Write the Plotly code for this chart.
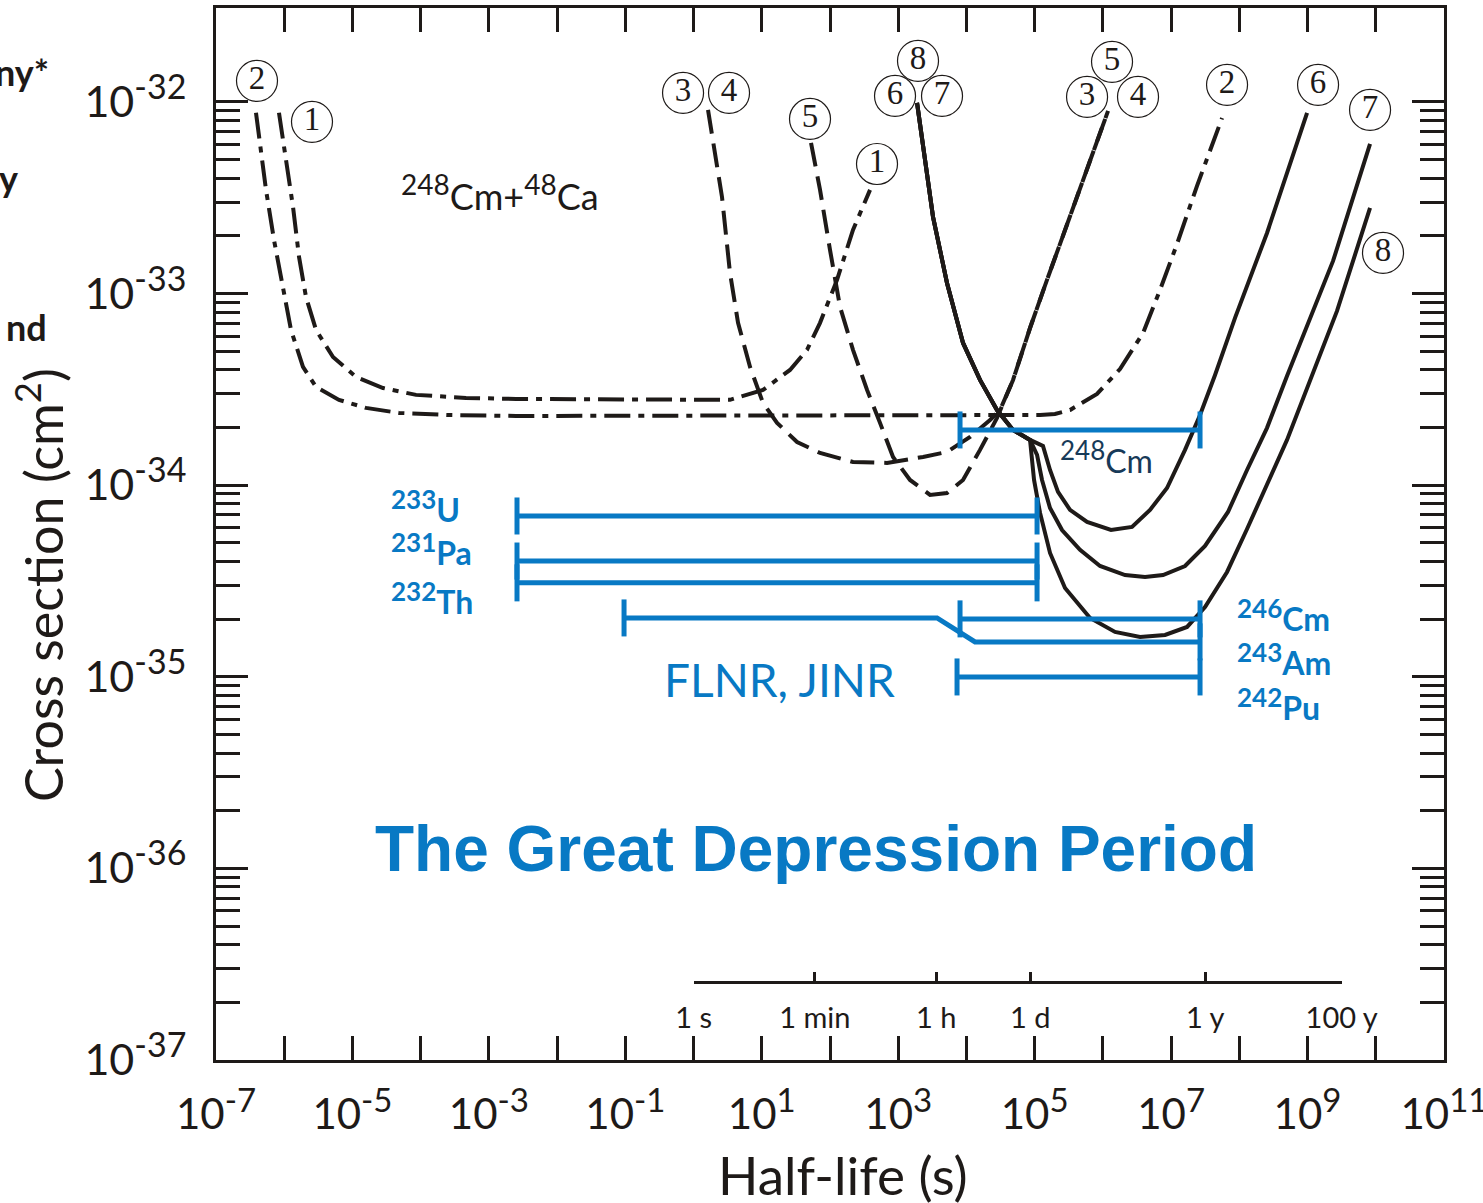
import plotly.graph_objects as go

# ---------------- data (log10 half-life [s], log10 cross-section [cm^2]) ----------------
# curve 1 (dash-dot)
c1_lt = [-6.077, -5.974, -5.871, -5.783, -5.681, -5.534, -5.285, -4.948, -4.552, -4.068, -3.335, -2.602,
         -0.785, 0.534, 1.018, 1.414, 1.663, 1.854, 2.103, 2.337, 2.587]
c1_ls = [-32.057, -32.287, -32.548, -32.809, -33.018, -33.190, -33.331, -33.435, -33.493, -33.529, -33.545,
         -33.550, -33.555, -33.555, -33.503, -33.399, -33.294, -33.153, -32.929, -32.668, -32.459]
# curve 2 (dash-dot)
c2_lt = [-6.414, -6.267, -6.150, -6.018, -5.901, -5.725, -5.534, -5.197, -4.801, -4.317, -3.585, -2.602,
         0.828, 5.079, 5.298, 5.518, 5.914, 6.251, 6.589, 6.838, 7.087, 7.380, 7.747]
c2_ls = [-32.057, -32.459, -32.720, -32.981, -33.190, -33.383, -33.487, -33.555, -33.597, -33.623, -33.634,
         -33.639, -33.639, -33.634, -33.629, -33.608, -33.524, -33.394, -33.206, -32.981, -32.741, -32.438, -32.084]
# curves 3 / 4 (dashed)
c34_lt = [0.212, 0.285, 0.417, 0.534, 0.652, 0.828, 1.018, 1.224, 1.517, 1.854, 2.337, 2.836, 3.364, 3.715,
          4.053, 4.346, 4.492, 4.683, 4.932, 5.181, 5.401, 5.636, 5.856, 6.076]
c34_ls = [-32.042, -32.198, -32.496, -32.892, -33.153, -33.383, -33.571, -33.675, -33.775, -33.832, -33.879,
          -33.884, -33.853, -33.827, -33.748, -33.660, -33.608, -33.451, -33.180, -32.929, -32.710, -32.475,
          -32.261, -32.047]
# curve 5 (dashed)
c5_lt = [1.722, 1.854, 2.000, 2.147, 2.337, 2.543, 2.733, 2.924, 3.173, 3.466, 3.715, 3.950, 4.199, 4.448,
         4.683, 4.932, 5.181, 5.401, 5.636, 5.856, 6.076]
c5_ls = [-32.214, -32.459, -32.772, -33.070, -33.294, -33.503, -33.675, -33.853, -33.973, -34.051, -34.041,
         -33.973, -33.816, -33.649, -33.451, -33.180, -32.929, -32.710, -32.475, -32.261, -32.047]
# curves 6 / 7 / 8 (solid): common upper branch + individual tails
trunk_lt = [3.276, 3.422, 3.510, 3.715, 3.950, 4.199, 4.448, 4.683, 4.932]
trunk_ls = [-32.005, -32.371, -32.600, -32.945, -33.258, -33.451, -33.608, -33.712, -33.764]
c6_lt = [5.122, 5.225, 5.342, 5.518, 5.768, 6.119, 6.427, 6.691, 6.940, 7.204, 7.424, 7.644, 7.937, 8.406, 8.993]
c6_ls = [-33.795, -33.921, -34.035, -34.129, -34.192, -34.234, -34.218, -34.129, -34.015, -33.816, -33.634,
         -33.425, -33.127, -32.684, -32.057]
c7_lt = [5.035, 5.108, 5.225, 5.401, 5.665, 5.958, 6.325, 6.618, 6.882, 7.204, 7.497, 7.834, 8.113, 8.406,
         8.699, 9.374, 9.916]
c7_ls = [-33.842, -33.973, -34.119, -34.234, -34.338, -34.422, -34.469, -34.479, -34.469, -34.422, -34.317,
         -34.140, -33.921, -33.701, -33.430, -32.830, -32.219]
c8_lt = [4.991, 5.079, 5.225, 5.445, 5.812, 6.178, 6.545, 6.911, 7.234, 7.497, 7.820, 8.113, 8.699, 9.432, 9.916]
c8_ls = [-33.973, -34.145, -34.354, -34.537, -34.693, -34.766, -34.792, -34.782, -34.740, -34.636, -34.453,
         -34.229, -33.764, -33.091, -32.553]

# blue half-life ranges (log10 start, log10 end, log10 cross-section)
bar_names = ["248Cm", "233U", "231Pa", "232Th", "246Cm", "242Pu"]
bar_t0 = [3.906, -2.588, -2.588, -2.588, 3.906, 3.862]
bar_t1 = [7.424, 5.035, 5.035, 5.035, 7.424, 7.424]
bar_s = [-33.712, -34.161, -34.396, -34.510, -34.698, -35.001]
# FLNR / 243Am bent range
flnr_lt = [-1.019, 3.569, 4.126, 7.424]
flnr_ls = [-34.693, -34.693, -34.818, -34.818]

# circled curve labels (label, log10 t, log10 sigma)
circ_labels = ["2", "1", "3", "4", "5", "1", "8", "6", "7", "5", "3", "4", "2", "6", "7", "8"]
circ_lt = [-6.399, -5.593, -0.154, 0.520, 1.707, 2.689, 3.290, 2.953, 3.642, 6.134, 5.768, 6.515, 7.820,
           9.154, 9.916, 10.106]
circ_ls = [-31.890, -32.104, -31.953, -31.953, -32.089, -32.324, -31.786, -31.969, -31.969, -31.791, -31.974,
           -31.974, -31.911, -31.911, -32.042, -32.788]

# secondary time scale
time_vals_s = [1, 60, 3600, 86400, 3.156e7, 3.156e9]
time_text = ["1 s", "1 min", "1 h", "1 d", "1 y", "100 y"]

x_exps = list(range(-7, 12))
y_exps = list(range(-37, -31))

# ---------------- styling ----------------
BLACK = "#1e1a18"
BLUE = "#0879c4"
NAVY = "#173a58"
SANS = "Lato, 'Open Sans', sans-serif"
ARIAL = "'Liberation Sans', Arial, sans-serif"
SERIF = "'Liberation Serif', 'Times New Roman', serif"
DASH = "24px,10px"
DASHDOT = "26px,8px,6px,8px"

W, H = 1483, 1203
ML, MR, MT, MB = 216, 39, 8, 143
PW, PH = W - ML - MR, H - MT - MB


def P(v):
    return [10.0 ** a for a in v]


def lg(v):
    return [None if a is None else 10.0 ** a for a in v]


def paper(px, py):
    return (px - ML) / PW, (H - MB - py) / PH


fig = go.Figure()

curves = [
    (c1_lt, c1_ls, DASHDOT),
    (c2_lt, c2_ls, DASHDOT),
    (c34_lt, c34_ls, DASH),
    (c5_lt, c5_ls, DASH),
    (trunk_lt + c6_lt, trunk_ls + c6_ls, "solid"),
    (trunk_lt + c7_lt, trunk_ls + c7_ls, "solid"),
    (trunk_lt + c8_lt, trunk_ls + c8_ls, "solid"),
]
for lt, ls, dash in curves:
    fig.add_trace(go.Scatter(x=P(lt), y=P(ls), mode="lines",
                             line=dict(color=BLACK, width=4, dash=dash),
                             hoverinfo="skip", showlegend=False))

# blue bars with end caps
CAP = 18.5 / 191.6  # cap half-height in decades
for t0, t1, s in zip(bar_t0, bar_t1, bar_s):
    xs = [t0, t1, None, t0, t0, None, t1, t1]
    ys = [s, s, None, s - CAP, s + CAP, None, s - CAP, s + CAP]
    fig.add_trace(go.Scatter(x=lg(xs), y=lg(ys), mode="lines", line=dict(color=BLUE, width=5),
                             hoverinfo="skip", showlegend=False))
fx = flnr_lt + [None, flnr_lt[0], flnr_lt[0], None, flnr_lt[-1], flnr_lt[-1]]
fy = flnr_ls + [None, flnr_ls[0] - CAP, flnr_ls[0] + CAP, None, flnr_ls[-1] - CAP, flnr_ls[-1] + CAP]
fig.add_trace(go.Scatter(x=lg(fx), y=lg(fy), mode="lines", line=dict(color=BLUE, width=5),
                         hoverinfo="skip", showlegend=False))

# circled labels
fig.add_trace(go.Scatter(x=P(circ_lt), y=P(circ_ls), mode="markers+text", text=circ_labels,
                         textposition="middle center",
                         textfont=dict(family=SERIF, size=33, color=BLACK),
                         marker=dict(symbol="circle-open", size=41, color=BLACK, line=dict(width=1.2)),
                         cliponaxis=False, hoverinfo="skip", showlegend=False))

# invisible trace for secondary time axis
fig.add_trace(go.Scatter(x=[10], y=[1e-36], xaxis="x2", yaxis="y", mode="markers",
                         marker=dict(opacity=0), hoverinfo="skip", showlegend=False))


# ---------------- annotations ----------------
def ann(text, px, py, size, color, family=SANS, xanchor="center", angle=0):
    x, y = paper(px, py)
    fig.add_annotation(text=text, x=x, y=y, xref="paper", yref="paper", showarrow=False,
                       xanchor=xanchor, yanchor="middle", textangle=angle,
                       font=dict(size=size, color=color, family=family))


def iso(mass, sym, sup_px, bold=False):
    s = f"<sup><span style='font-size:{sup_px}px'>{mass}</span></sup>{sym}"
    return f"<b>{s}</b>" if bold else s


ann(iso(248, "Cm+", 28) + "<sup><span style='font-size:28px'>48</span></sup>Ca", 399, 193, 36, BLACK,
    xanchor="left")
ann(iso(233, "U", 26, True), 389, 506, 32, BLUE, xanchor="left")
ann(iso(231, "Pa", 26, True), 389, 549, 32, BLUE, xanchor="left")
ann(iso(232, "Th", 26, True), 389, 598, 32, BLUE, xanchor="left")
ann(iso(248, "Cm", 26), 1058, 457, 32, NAVY, xanchor="left")
ann(iso(246, "Cm", 26, True), 1235, 615, 32, BLUE, xanchor="left")
ann(iso(243, "Am", 26, True), 1235, 659, 32, BLUE, xanchor="left")
ann(iso(242, "Pu", 26, True), 1235, 704, 32, BLUE, xanchor="left")
ann("FLNR, JINR", 779, 679, 46, BLUE)
ann("<b>The Great Depression Period</b>", 816, 849, 64, BLUE, family=ARIAL)
ann("Cross section (cm<sup>2</sup>)", 40, 585, 52, BLACK, angle=-90)
ann("Half-life (s)", 843, 1174, 53, BLACK)
ann("<b>ny*</b>", 51, 72, 36, BLACK, xanchor="right")
ann("<b>y</b>", 20, 178, 36, BLACK, xanchor="right")
ann("<b>nd</b>", 49, 327, 36, BLACK, xanchor="right")


# ---------------- axes ----------------
def pow_label(e, sup_px):
    return f"10<sup><span style='font-size:{sup_px}px'>{e}</span></sup>"


x_major = [10.0 ** e for e in x_exps if e % 2 != 0]
x_major_text = [pow_label(e, 33) for e in x_exps if e % 2 != 0]
x_minor = [10.0 ** e for e in x_exps if e % 2 == 0]
y_tickvals = [10.0 ** e for e in y_exps]
y_ticktext = [pow_label(e, 34) for e in y_exps]
y_minor = [m * 10.0 ** e for e in y_exps[:-1] for m in range(2, 10)]

fig.update_layout(
    width=W, height=H, autosize=False,
    margin=dict(l=ML, r=MR, t=MT, b=MB, pad=0, autoexpand=False),
    paper_bgcolor="white", plot_bgcolor="rgba(0,0,0,0)",
    showlegend=False,
    xaxis=dict(type="log", range=[-7, 11], tickmode="array", tickvals=x_major, ticktext=x_major_text,
               ticks="inside", ticklen=24, tickwidth=2.5, tickcolor=BLACK,
               minor=dict(tickmode="array", tickvals=x_minor, ticks="inside", ticklen=24, tickwidth=2.5,
                          tickcolor=BLACK, showgrid=False),
               showline=True, linewidth=3, linecolor=BLACK, mirror="ticks", automargin=False,
               showgrid=False, zeroline=False, ticklabelstandoff=16, ticklabeloverflow="allow",
               tickfont=dict(family=SANS, size=42, color=BLACK)),
    yaxis=dict(type="log", range=[-37, -31.51], tickmode="array", tickvals=y_tickvals, ticktext=y_ticktext,
               ticks="inside", ticklen=32, tickwidth=3, tickcolor=BLACK,
               minor=dict(tickmode="array", tickvals=y_minor, ticks="inside", ticklen=24, tickwidth=3,
                          tickcolor=BLACK, showgrid=False),
               showline=True, linewidth=3, linecolor=BLACK, mirror="ticks", automargin=False,
               showgrid=False, zeroline=False, ticklabelstandoff=18, ticklabeloverflow="allow",
               tickfont=dict(family=SANS, size=43, color=BLACK)),
    xaxis2=dict(type="log", range=[0, 9.4991], domain=[7 / 18, 16.4991 / 18], anchor="free",
                position=(1060 - 982) / PH, side="bottom", automargin=False,
                tickmode="array", tickvals=time_vals_s, ticktext=time_text,
                ticks="inside", ticklen=9, tickwidth=3, tickcolor=BLACK,
                showline=True, linewidth=3, linecolor=BLACK, showgrid=False, zeroline=False,
                ticklabelstandoff=9, ticklabeloverflow="allow",
                tickfont=dict(family=SANS, size=29, color=BLACK)),
)

fig.write_html("out.html", config={"displayModeBar": False})
